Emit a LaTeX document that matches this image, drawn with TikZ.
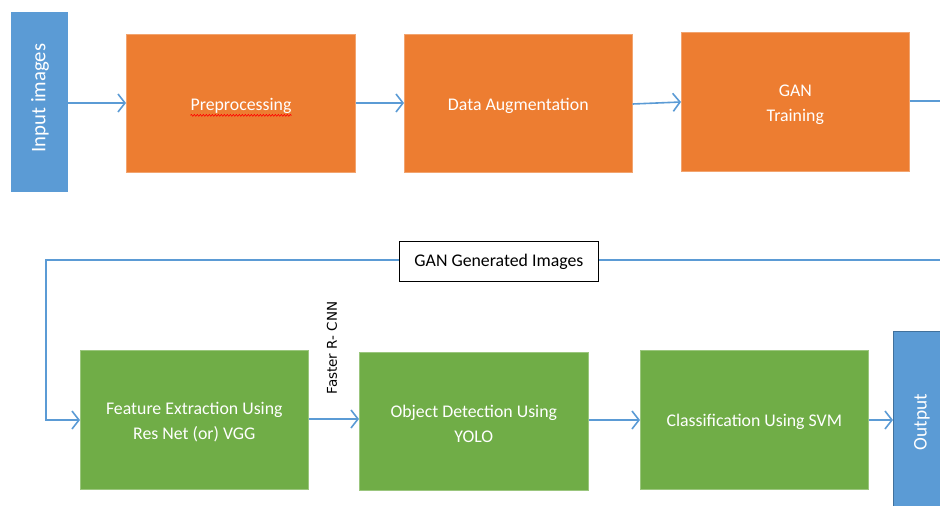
\documentclass[tikz,border=0pt]{standalone}
\usepackage{fontspec}
\setmainfont{Carlito}
\newfontfamily\labelfont{DejaVu Sans}
\usetikzlibrary{arrows.meta,decorations.pathmorphing}
\definecolor{flowblue}{HTML}{5B9BD5}
\definecolor{flowborder}{HTML}{41719C}
\definecolor{floworange}{HTML}{ED7D31}
\definecolor{flowgreen}{HTML}{70AD47}
\tikzset{
  box/.style={text=white, inner sep=0pt, anchor=north west},
  orangebox/.style={box, fill=floworange, draw=floworange!70!white, line width=0.6pt},
  greenbox/.style={box, fill=flowgreen, draw=flowgreen!70!white, line width=0.6pt},
  bluebox/.style={box, fill=flowblue},
  boxtext/.style={text=white, align=center, inner sep=0pt, yshift=-2.5pt, font=\fontsize{17.8}{22}\selectfont},
  sidetext/.style={text=white, rotate=90, inner sep=0pt},
  flow/.style={draw=flowblue, line width=1.6pt},
  flowarrow/.style={flow, -{Straight Barb[length=7pt, width=18pt, line width=1.6pt]}},
  tagbox/.style={draw=black, line width=0.8pt, fill=white, text=black, font=\fontsize{17.8}{22}\selectfont, inner sep=0pt}
}
\begin{document}
\begin{tikzpicture}[x=1pt, y=-1pt]
\useasboundingbox (0,0) rectangle (940,506);

% top row
\node[bluebox, minimum width=57pt, minimum height=180pt] (in) at (11,12) {};
\node[sidetext, font=\fontsize{20.7}{24}\selectfont] (intext) at (40,98) {Input images};
\node[orangebox, minimum width=229pt, minimum height=138pt] (pre) at (126,34) {};
\node[boxtext] (pretext) at (241,103) {Preprocessing};
\node[orangebox, minimum width=228pt, minimum height=138pt] (aug) at (404,34) {};
\node[boxtext] (augtext) at (aug.center) {Data Augmentation};
\node[orangebox, minimum width=228pt, minimum height=139pt] (gan) at (681,32) {};
\node[boxtext] (gantext) at (gan.center) {GAN\\[3pt]Training};

% spelling mark under the preprocessing label
\draw[red, line width=0.6pt, decorate, decoration={snake, amplitude=0.9pt, segment length=3pt}]
  ([yshift=-2pt]pretext.south west) -- ([yshift=-2pt]pretext.south east);

\draw[flowarrow] (in.east |- 0,103) -- (pre.west |- 0,103);
\draw[flowarrow] (pre.east |- 0,103) -- (aug.west |- 0,103);
\draw[flowarrow] (aug.east |- 0,104) -- (gan.west |- 0,102);
\coordinate (exit) at (940,101);
\draw[flow] (gan.east |- 0,101) -- (exit);

% bottom row
\node[greenbox, minimum width=228pt, minimum height=139pt] (feat) at (80,350) {};
\node[boxtext] (feattext) at (feat.center) {Feature Extraction Using\\[3pt]Res Net (or) VGG};
\node[greenbox, minimum width=229pt, minimum height=138pt] (det) at (359,352) {};
\node[boxtext] (dettext) at (det.center) {Object Detection Using\\[3pt]YOLO};
\node[greenbox, minimum width=228pt, minimum height=139pt] (cls) at (640,350) {};
\node[boxtext] (clstext) at (cls.center) {Classification Using SVM};
\node[bluebox, draw=flowborder, line width=1pt, minimum width=60pt, minimum height=190pt] (out) at (893,331) {};
\node[sidetext, font=\fontsize{19.3}{22}\selectfont] (outtext) at (922,422) {Output};

% feedback of generated images
\node[tagbox, minimum width=199pt, minimum height=40pt, anchor=north west] (tag) at (399,241) {GAN Generated Images};
\coordinate (back) at (940,260);
\coordinate (turn) at (46,260);
\coordinate (down) at (46,420);
\draw[flow] (back) -- (tag.east |- back);
\draw[flowarrow] (tag.west |- turn) -- (turn) -- (down) -- (feat.west |- down);

\draw[flowarrow] (feat.east |- 0,419) -- (det.west |- 0,419);
\node[rotate=90, text=black, font=\labelfont\fontsize{13.5}{16}\selectfont, inner sep=0pt] (rcnn) at (332,348) {Faster R- CNN};
\draw[flowarrow] (det.east |- 0,420) -- (cls.west |- 0,420);
\draw[flowarrow] (cls.east |- 0,420) -- (out.west |- 0,420);
\end{tikzpicture}
\end{document}
